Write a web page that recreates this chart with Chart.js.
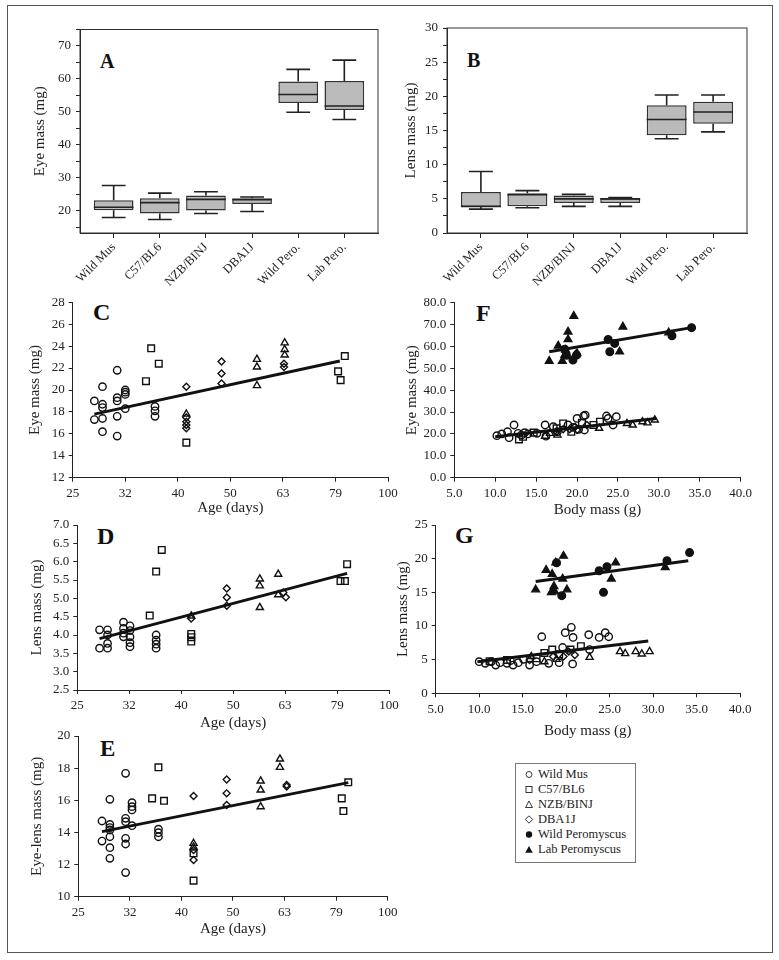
<!DOCTYPE html>
<html>
<head>
<meta charset="utf-8">
<script src="https://cdn.jsdelivr.net/npm/chart.js@4.4.1/dist/chart.umd.min.js"></script>
<style>
  body { margin: 0; background: #fff; }
  #page { position: relative; width: 779px; height: 960px; overflow: hidden; font-family: 'Liberation Serif', 'Times New Roman', serif; color: #222; }
  canvas { position: absolute; }
  .frame { position: absolute; left: 7px; top: 5px; width: 764px; height: 946px; border: 1.5px solid #555; }
  .letter { position: absolute; font-weight: bold; line-height: 1; color: #111; }
  #legend { position: absolute; left: 515px; top: 763px; width: 121px; height: 100px; border: 1px solid #777; padding-top: 3px; box-sizing: border-box; font-size: 12.5px; color: #222; }
  #legend .row { height: 15px; line-height: 15px; padding-left: 7px; white-space: nowrap; }
  #legend svg { display: inline-block; width: 12px; height: 9px; margin-right: 3px; vertical-align: -1px; }
</style>
</head>
<body>
<div id="page">
  <div class="frame"></div>
  <div class="letter" style="left:100px;top:51px;font-size:20px">A</div>
  <div class="letter" style="left:467px;top:50px;font-size:20px">B</div>
  <div class="letter" style="left:93px;top:300px;font-size:24px">C</div>
  <div class="letter" style="left:97px;top:524px;font-size:24px">D</div>
  <div class="letter" style="left:100px;top:737px;font-size:23px">E</div>
  <div class="letter" style="left:476px;top:301px;font-size:24px">F</div>
  <div class="letter" style="left:455px;top:523px;font-size:24px">G</div>
  <div id="legend">
    <div class="row"><svg viewBox="0 0 12 9"><circle cx="6" cy="4.5" r="3" fill="none" stroke="#222" stroke-width="0.9"/></svg>Wild Mus</div>
    <div class="row"><svg viewBox="0 0 12 9"><rect x="3" y="1.5" width="6" height="6" fill="none" stroke="#222" stroke-width="0.9"/></svg>C57/BL6</div>
    <div class="row"><svg viewBox="0 0 12 9"><polygon points="6,1 9.5,7.5 2.5,7.5" fill="none" stroke="#222" stroke-width="0.9"/></svg>NZB/BINJ</div>
    <div class="row"><svg viewBox="0 0 12 9"><polygon points="6,0.8 9.7,4.5 6,8.2 2.3,4.5" fill="none" stroke="#222" stroke-width="0.9"/></svg>DBA1J</div>
    <div class="row"><svg viewBox="0 0 12 9"><circle cx="6" cy="4.5" r="3.2" fill="#111"/></svg>Wild Peromyscus</div>
    <div class="row"><svg viewBox="0 0 12 9"><polygon points="6,1 9.8,7.8 2.2,7.8" fill="#111"/></svg>Lab Peromyscus</div>
  </div>
</div>
<script>
// ---- box plots (A: eye mass, B: lens mass) ----
const boxLabels = ['Wild Mus', 'C57/BL6', 'NZB/BINJ', 'DBA1J', 'Wild Pero.', 'Lab Pero.'];
const aLow  = [18.0, 17.4, 19.2, 19.8, 49.9, 47.7];
const aQ1   = [20.2, 19.2, 20.1, 22.1, 52.7, 50.6];
const aMed  = [21.1, 22.5, 23.5, 23.4, 55.3, 51.8];
const aQ3   = [23.2, 23.8, 24.7, 23.8, 59.2, 59.4];
const aHigh = [27.7, 25.4, 25.8, 24.2, 62.9, 65.7];
const bLow  = [3.5, 3.7, 3.9, 3.9, 13.8, 14.8];
const bQ1   = [3.8, 3.9, 4.4, 4.4, 14.3, 16.0];
const bMed  = [3.9, 5.6, 5.0, 5.0, 16.6, 17.7];
const bQ3   = [6.0, 5.8, 5.5, 5.1, 18.7, 19.2];
const bHigh = [9.0, 6.2, 5.65, 5.2, 20.2, 20.2];

// ---- age panels, [age (days), mass (mg)] ----
const ageTicks = [25, 31.5, 39.7, 50, 63, 79.4, 100];
const ageTickLabels = ['25', '32', '40', '50', '63', '79', '100'];

const cWildMus = [[27.5,19.0],[27.5,17.3],[28.5,20.3],[28.5,18.7],[28.5,18.4],[28.5,17.4],[28.5,16.2],[30.4,21.8],[30.4,19.3],[30.4,19.0],[30.4,17.6],[30.4,15.8],[31.5,20.0],[31.5,19.8],[31.5,19.6],[31.5,18.3],[35.9,18.5],[35.9,18.1],[35.9,17.6]];
const cC57 = [[34.5,20.8],[35.3,23.8],[36.5,22.4],[41.2,15.2],[80.3,21.7],[81.2,20.9],[82.7,23.1]];
const cNZB = [[41.2,17.8],[56.2,22.8],[56.2,22.1],[56.2,20.4],[63.5,24.3],[63.5,23.7],[63.5,23.2]];
const cDBA = [[41.2,20.3],[41.2,17.5],[41.2,17.1],[41.2,16.8],[41.2,16.5],[48.1,22.6],[48.1,21.5],[48.1,20.6],[63.3,22.4],[63.3,22.1]];
const cFit = [[27.5,17.8],[80.9,22.65]];

const dWildMus = [[27.6,4.14],[27.6,3.64],[28.6,4.14],[28.6,4.0],[28.6,3.77],[28.6,3.64],[30.7,4.35],[30.7,4.18],[30.7,4.05],[30.7,3.95],[31.6,4.25],[31.6,4.12],[31.6,3.95],[31.6,3.79],[31.6,3.68],[35.5,4.0],[35.5,3.86],[35.5,3.75],[35.5,3.64]];
const dC57 = [[34.5,4.53],[35.5,5.73],[36.4,6.32],[41.5,4.03],[41.5,3.94],[41.5,3.82],[80.6,5.47],[82.2,5.47],[83.0,5.93]];
const dNZB = [[41.5,4.52],[56.3,5.53],[56.3,5.34],[56.3,4.75],[61.1,5.66],[61.1,5.1]];
const dDBA = [[41.5,4.45],[48.6,5.27],[48.6,5.02],[48.6,4.8],[62.5,5.16],[63.2,5.03]];
const dFit = [[27.6,3.9],[83.0,5.68]];

const eWildMus = [[27.8,14.71],[27.8,13.46],[28.8,16.06],[28.8,14.5],[28.8,14.3],[28.8,14.15],[28.8,13.73],[28.8,13.05],[28.8,12.39],[30.9,17.68],[30.9,14.88],[30.9,14.67],[30.9,13.63],[30.9,13.28],[30.9,11.5],[31.8,15.85],[31.8,15.6],[31.8,15.4],[31.8,14.42],[35.8,14.2],[35.8,13.98],[35.8,13.73]];
const eC57 = [[34.8,16.12],[35.8,18.05],[36.7,15.97],[41.9,12.7],[41.9,11.0],[81.4,16.12],[82.0,15.33],[83.8,17.12]];
const eNZB = [[41.9,13.32],[41.9,13.1],[56.6,17.2],[56.6,16.64],[56.6,15.6],[61.7,18.57],[61.7,18.05]];
const eDBA = [[41.9,16.27],[41.9,12.9],[41.9,12.28],[48.6,17.3],[48.6,16.43],[48.6,15.7],[63.6,16.95],[63.6,16.85]];
const eFit = [[27.8,14.05],[83.8,17.1]];

// ---- body mass panels, [body mass (g), mass (mg)] ----
const fWildMus = [[10.2,19.2],[10.8,20.0],[11.5,21.0],[11.7,18.3],[12.3,24.1],[12.8,20.3],[13.2,19.5],[13.6,20.6],[14.0,20.0],[15.1,20.3],[16.1,24.1],[16.2,19.0],[17.1,23.3],[17.6,21.0],[18.9,24.1],[19.5,23.0],[20.0,27.1],[20.2,22.1],[20.8,28.2],[21.0,28.6],[20.9,21.8],[23.6,28.2],[23.8,27.1],[24.4,24.1],[24.8,27.9]];
const fC57 = [[12.9,17.5],[13.4,18.7],[14.7,20.6],[17.5,22.6],[18.3,24.8],[19.3,21.0],[20.6,25.1],[22.0,24.1],[22.8,25.6]];
const fNZB = [[16.1,19.0],[16.7,20.3],[17.6,19.5],[22.7,22.6],[26.1,24.8],[26.8,24.1],[28.0,25.6],[28.6,25.1],[29.5,26.4]];
const fDBA = [[17.5,21.0],[18.3,22.1],[19.1,22.1],[19.75,23.3],[20.0,21.8],[21.2,24.1]];
const fWildPero = [[18.5,58.7],[18.7,56.0],[19.5,53.8],[19.95,56.1],[23.8,63.2],[24.0,57.6],[24.6,61.4],[31.6,64.9],[34.0,68.6]];
const fLabPero = [[16.6,53.3],[17.7,60.3],[18.2,53.3],[18.5,56.1],[18.6,58.4],[18.9,66.7],[18.9,63.2],[19.6,73.9],[19.8,56.1],[20.0,56.8],[25.2,57.6],[25.6,69.0],[31.2,66.3]];
const fFitMouse = [[10.0,18.7],[29.7,27.1]];
const fFitPero = [[16.6,57.6],[34.0,68.6]];

const gWildMus = [[10.0,4.7],[10.7,4.46],[11.4,4.7],[11.9,4.2],[12.4,4.55],[13.2,4.46],[13.6,4.85],[13.9,4.2],[14.5,4.55],[15.1,5.05],[15.8,4.2],[16.6,4.7],[17.2,8.4],[18.0,4.46],[19.2,4.55],[19.6,6.8],[19.9,9.0],[20.6,9.8],[20.8,8.3],[20.75,4.36],[22.6,8.7],[22.7,6.5],[23.8,8.3],[24.5,9.0],[24.9,8.4]];
const gC57 = [[11.2,4.75],[13.2,4.95],[16.6,5.2],[17.5,6.0],[18.4,6.5],[19.2,5.8],[20.5,6.5],[21.7,7.0]];
const gNZB = [[16.0,5.45],[17.5,4.7],[18.9,5.05],[22.7,5.35],[26.2,6.2],[26.8,5.9],[28.0,6.2],[28.7,5.85],[29.6,6.2]];
const gDBA = [[15.8,4.95],[18.5,5.45],[19.7,5.45],[20.3,6.2],[21.0,5.7]];
const gWildPero = [[18.9,19.4],[19.5,14.5],[23.8,18.2],[24.3,15.0],[24.7,18.8],[31.6,19.7],[34.2,20.9]];
const gLabPero = [[16.5,15.4],[17.7,18.3],[18.3,15.0],[18.4,17.7],[18.6,15.9],[18.7,15.1],[18.8,19.4],[19.6,17.0],[19.7,20.4],[20.1,15.4],[25.2,17.0],[25.7,19.4],[31.4,18.7]];
const gFitMouse = [[9.8,4.7],[29.45,7.77]];
const gFitPero = [[16.5,16.6],[34.05,19.7]];

Chart.defaults.font.family = "'Liberation Serif', 'Times New Roman', serif";
Chart.defaults.font.size = 13;
Chart.defaults.color = '#222';
Chart.defaults.animation = false;
Chart.defaults.events = [];
Chart.defaults.plugins.legend.display = false;
Chart.defaults.plugins.tooltip.enabled = false;

const TITLE_LH = 18;

function mount(rect) {
  const c = document.createElement('canvas');
  c.width = rect[2];
  c.height = rect[3];
  c.style.left = rect[0] + 'px';
  c.style.top = rect[1] + 'px';
  document.getElementById('page').appendChild(c);
  return c;
}

// place the plot area at fixed page pixels
function fitLayout(rect, area, yTitleX) {
  const padLeft = yTitleX - TITLE_LH / 2 - rect[0];
  return {
    padding: { left: padLeft, top: area[1] - rect[1], right: rect[0] + rect[2] - area[2], bottom: 0 },
    yWidth: area[0] - rect[0] - padLeft,
    xHeight: rect[1] + rect[3] - area[3]
  };
}
function noPad(s) { s.paddingLeft = s.paddingRight = s.paddingTop = s.paddingBottom = 0; }

function axis(extra) {
  return Object.assign({
    border: { display: true, color: '#222', width: 1 },
    grid: { display: true, drawOnChartArea: false, drawTicks: true, tickLength: 4, color: '#222', lineWidth: 1 },
  }, extra);
}
function titleOf(text) {
  return { display: true, text: text, font: { size: 15 }, color: '#222', padding: 0 };
}

const frame = {
  id: 'frame',
  afterDraw(chart) {
    const { ctx, chartArea: a } = chart;
    ctx.save();
    ctx.strokeStyle = '#333';
    ctx.lineWidth = 1;
    ctx.strokeRect(a.left, a.top, a.right - a.left, a.bottom - a.top);
    ctx.restore();
  }
};

const whiskers = {
  id: 'whiskers',
  afterDatasetsDraw(chart) {
    const ds = chart.data.datasets[0];
    const meta = chart.getDatasetMeta(0);
    const y = chart.scales.y;
    const ctx = chart.ctx;
    ctx.save();
    ctx.strokeStyle = '#222';
    ctx.lineWidth = 1.6;
    meta.data.forEach((bar, i) => {
      const x = bar.x, half = bar.width / 2, cap = bar.width * 0.3;
      const pLo = y.getPixelForValue(ds.low[i]);
      const pHi = y.getPixelForValue(ds.high[i]);
      const pQ1 = y.getPixelForValue(ds.q1[i]);
      const pQ3 = y.getPixelForValue(ds.q3[i]);
      const pMed = y.getPixelForValue(ds.med[i]);
      ctx.beginPath();
      ctx.moveTo(x, pQ3); ctx.lineTo(x, pHi);
      ctx.moveTo(x - cap, pHi); ctx.lineTo(x + cap, pHi);
      ctx.moveTo(x, pQ1); ctx.lineTo(x, pLo);
      ctx.moveTo(x - cap, pLo); ctx.lineTo(x + cap, pLo);
      ctx.moveTo(x - half, pMed); ctx.lineTo(x + half, pMed);
      ctx.stroke();
    });
    ctx.restore();
  }
};

function boxPanel(rect, area, yTitleX, yTitle, yMin, yMax, step, labelEvery, labelFrom, low, q1, med, q3, high) {
  const L = fitLayout(rect, area, yTitleX);
  new Chart(mount(rect), {
    type: 'bar',
    data: {
      datasets: [{
        data: boxLabels.map((_, i) => ({ x: i, y: [q1[i], q3[i]] })),
        low: low, q1: q1, med: med, q3: q3, high: high,
        backgroundColor: '#bababa',
        borderColor: '#333',
        borderWidth: 1.5,
        borderSkipped: false,
        categoryPercentage: 1,
        barPercentage: 0.86
      }]
    },
    options: {
      responsive: false,
      layout: { padding: L.padding },
      scales: {
        x: axis({
          type: 'linear', min: -0.73, max: 5.73, offset: false,
          grid: { display: true, drawOnChartArea: false, drawTicks: true, tickLength: 5, color: '#222', offset: false },
          afterBuildTicks: s => { s.ticks = boxLabels.map((_, i) => ({ value: i })); },
          afterFit: s => { s.height = L.xHeight; noPad(s); },
          ticks: { callback: v => boxLabels[v], minRotation: 45, maxRotation: 45, autoSkip: false, padding: 2, font: { size: 12.5 } }
        }),
        y: axis({
          min: yMin, max: yMax,
          afterFit: s => { s.width = L.yWidth; noPad(s); },
          ticks: {
            stepSize: step, includeBounds: false, padding: 5, autoSkip: false,
            callback: v => (Math.abs(v % labelEvery) < 1e-6 && v >= labelFrom ? String(v) : '')
          },
          title: titleOf(yTitle)
        })
      }
    },
    plugins: [whiskers, frame]
  });
}

boxPanel([0, 0, 392, 300], [80, 29.5, 378, 233], 40, 'Eye mass (mg)', 13.3, 75, 5, 10, 20, aLow, aQ1, aMed, aQ3, aHigh);
boxPanel([390, 0, 389, 300], [447, 28, 747, 233], 411, 'Lens mass (mg)', 0, 30, 2.5, 5, 0, bLow, bQ1, bMed, bQ3, bHigh);

const toXY = arr => arr.map(p => ({ x: p[0], y: p[1] }));

function pts(arr, style, filled, radius) {
  return {
    type: 'scatter',
    data: toXY(arr),
    pointStyle: style,
    pointRadius: radius,
    borderColor: '#111',
    backgroundColor: filled ? '#111' : 'rgba(0,0,0,0)',
    borderWidth: 1.4
  };
}
function fitLine(arr) {
  return { type: 'line', data: toXY(arr), borderColor: '#111', borderWidth: 3, pointRadius: 0, showLine: true, fill: false };
}

function scatterPanel(rect, area, yTitleX, xTitle, yTitle, xScale, yScale, datasets) {
  const L = fitLayout(rect, area, yTitleX);
  xScale.afterFit = s => { s.height = L.xHeight; noPad(s); };
  yScale.afterFit = s => { s.width = L.yWidth; noPad(s); };
  xScale.title = titleOf(xTitle);
  yScale.title = titleOf(yTitle);
  new Chart(mount(rect), {
    type: 'scatter',
    data: { datasets: datasets },
    options: {
      responsive: false,
      layout: { padding: L.padding },
      scales: { x: axis(xScale), y: axis(yScale) }
    }
  });
}

function ageAxis() {
  return {
    type: 'logarithmic', min: 25, max: 100,
    afterBuildTicks: s => { s.ticks = ageTicks.map(v => ({ value: v })); },
    ticks: { callback: (v, i) => ageTickLabels[i], autoSkip: false, maxRotation: 0, padding: 4 }
  };
}
function linAxis(min, max, step, digits) {
  return {
    type: 'linear', min: min, max: max,
    ticks: { stepSize: step, padding: 4, autoSkip: false, maxRotation: 0, callback: v => v.toFixed(digits) }
  };
}

function mouseSets(wild, c57, nzb, dba) {
  return [
    pts(wild, 'circle', false, 3.7),
    pts(c57, 'rect', false, 4.7),
    pts(nzb, 'triangle', false, 4.1),
    pts(dba, 'rectRot', false, 3.5)
  ];
}

scatterPanel([0, 285, 400, 232], [72.7, 302.3, 388, 477.7], 35, 'Age (days)', 'Eye mass (mg)',
  ageAxis(), linAxis(12, 28, 2, 0),
  [fitLine(cFit)].concat(mouseSets(cWildMus, cC57, cNZB, cDBA)));

scatterPanel([0, 510, 400, 222], [77.3, 525, 389, 690], 36.7, 'Age (days)', 'Lens mass (mg)',
  ageAxis(), linAxis(2.5, 7.0, 0.5, 1),
  [fitLine(dFit)].concat(mouseSets(dWildMus, dC57, dNZB, dDBA)));

scatterPanel([0, 720, 400, 218], [78.3, 736, 387.7, 896.7], 37.3, 'Age (days)', 'Eye-lens mass (mg)',
  ageAxis(), linAxis(10, 20, 2, 0),
  [fitLine(eFit)].concat(mouseSets(eWildMus, eC57, eNZB, eDBA)));

scatterPanel([390, 285, 389, 234], [454.3, 302.7, 740.7, 477.7], 411.7, 'Body mass (g)', 'Eye mass (mg)',
  linAxis(5, 40, 5, 1), linAxis(0, 80, 10, 1),
  [fitLine(fFitPero), fitLine(fFitMouse)]
    .concat(mouseSets(fWildMus, fC57, fNZB, fDBA))
    .concat([pts(fWildPero, 'circle', true, 3.8), pts(fLabPero, 'triangle', true, 4.4)]));

scatterPanel([390, 510, 389, 230], [435.7, 525, 740, 693.3], 403.3, 'Body mass (g)', 'Lens mass (mg)',
  linAxis(5, 40, 5, 1), linAxis(0, 25, 5, 0),
  [fitLine(gFitPero), fitLine(gFitMouse)]
    .concat(mouseSets(gWildMus, gC57, gNZB, gDBA))
    .concat([pts(gWildPero, 'circle', true, 3.8), pts(gLabPero, 'triangle', true, 4.4)]));
</script>
</body>
</html>
